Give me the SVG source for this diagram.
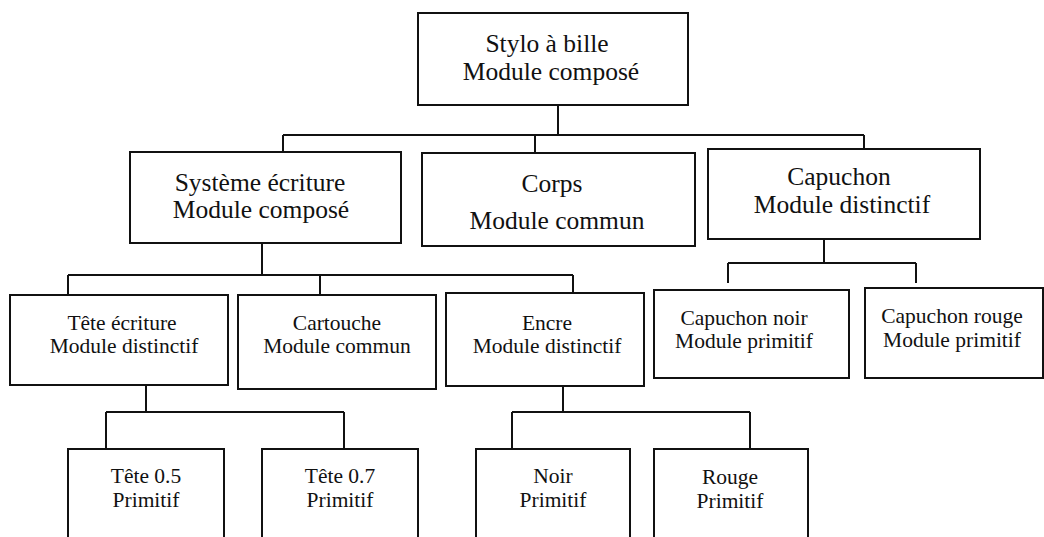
<svg xmlns="http://www.w3.org/2000/svg" width="1044" height="537" viewBox="0 0 1044 537">
<style>
.box{fill:#fff;stroke:#111;stroke-width:2}
.con{fill:none;stroke:#111;stroke-width:2}
.l{font-size:25.5px}
.m{font-size:21.5px}
</style>
<rect width="1044" height="537" fill="#fff"/>
<g id="connectors">
<path class="con" d="M558 105V135M283 135H864M283 135V152M535 135V153M864 135V149"/>
<path class="con" d="M824 239V263M728 263H916M728 263V283M916 263V283"/>
<path class="con" d="M262 239V275M68 275H573M68 275V294M320 275V294M573 275V293"/>
<path class="con" d="M146 385V412M106 412H344M106 412V449M344 412V449"/>
<path class="con" d="M563 386V412M512 412H750M512 412V449M750 412V449"/>
</g>
<g id="nodes" font-family="Liberation Serif, Times New Roman, serif" fill="#111" text-anchor="middle">
<g id="n-stylo"><rect class="box" x="418" y="13" width="270" height="92"/><text class="l" x="547" y="52">Stylo à bille</text><text class="l" x="551" y="80">Module composé</text></g>
<g id="n-systeme"><rect class="box" x="130" y="152" width="271" height="91"/><text class="l" x="260" y="191">Système écriture</text><text class="l" x="261" y="218">Module composé</text></g>
<g id="n-corps"><rect class="box" x="422" y="153" width="273" height="93"/><text class="l" x="552" y="192">Corps</text><text class="l" x="557" y="229">Module commun</text></g>
<g id="n-capuchon"><rect class="box" x="708" y="149" width="272" height="90"/><text class="l" x="839" y="185">Capuchon</text><text class="l" x="842" y="213">Module distinctif</text></g>
<g id="n-tete"><rect class="box" x="10" y="295" width="218" height="90"/><text class="m" x="122" y="330">Tête écriture</text><text class="m" x="124" y="353">Module distinctif</text></g>
<g id="n-cartouche"><rect class="box" x="238" y="295" width="198" height="94"/><text class="m" x="337" y="330">Cartouche</text><text class="m" x="337" y="353">Module commun</text></g>
<g id="n-encre"><rect class="box" x="446" y="293" width="198" height="93"/><text class="m" x="547" y="330">Encre</text><text class="m" x="547" y="353">Module distinctif</text></g>
<g id="n-capnoir"><rect class="box" x="654" y="290" width="195" height="88"/><text class="m" x="744" y="325">Capuchon noir</text><text class="m" x="744" y="348">Module primitif</text></g>
<g id="n-caprouge"><rect class="box" x="865" y="288" width="178" height="90"/><text class="m" x="952" y="323">Capuchon rouge</text><text class="m" x="952" y="347">Module primitif</text></g>
<g id="n-tete05"><rect class="box" x="68" y="449" width="156" height="100"/><text class="m" x="146" y="483">Tête 0.5</text><text class="m" x="146" y="507">Primitif</text></g>
<g id="n-tete07"><rect class="box" x="262" y="449" width="156" height="100"/><text class="m" x="340" y="483">Tête 0.7</text><text class="m" x="340" y="507">Primitif</text></g>
<g id="n-noir"><rect class="box" x="476" y="449" width="154" height="100"/><text class="m" x="553" y="483">Noir</text><text class="m" x="553" y="507">Primitif</text></g>
<g id="n-rouge"><rect class="box" x="654" y="449" width="154" height="100"/><text class="m" x="730" y="484">Rouge</text><text class="m" x="730" y="508">Primitif</text></g>
</g>
</svg>
